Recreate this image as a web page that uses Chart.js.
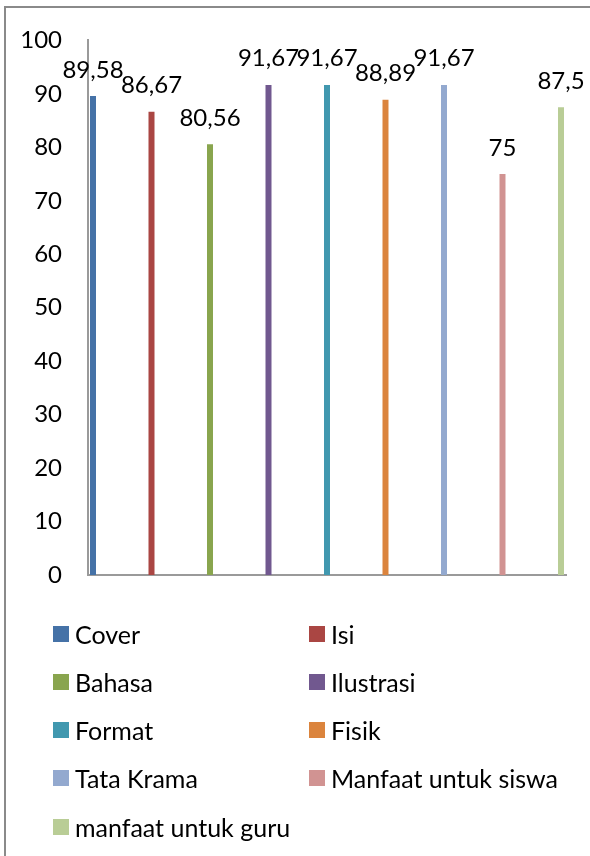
<!DOCTYPE html>
<html>
<head>
<meta charset="utf-8">
<script src="https://cdn.jsdelivr.net/npm/chart.js@4.4.0/dist/chart.umd.min.js"></script>
<style>
  html, body { margin: 0; padding: 0; background: #fff; overflow: hidden; }
  body { width: 590px; height: 856px; position: relative; font-family: Lato, "Open Sans", sans-serif; }
  #frame { position: absolute; left: 4px; top: 6px; width: 700px; height: 900px;
           border-left: 2px solid #8a8a8a; border-top: 2px solid #8a8a8a; }
  #wrap { position: absolute; left: 0; top: 0; width: 590px; height: 856px; }
  #legend { position: absolute; left: 0; top: 0; width: 590px; height: 856px; pointer-events: none; }
  .item { position: absolute; height: 16px; font-size: 25px; color: #000; white-space: nowrap; }
  .item .box { position: absolute; left: 0; top: 0; width: 16px; height: 16px; }
  .item .txt { position: absolute; left: 22px; top: 50%; transform: translateY(-50%); line-height: 1; }
</style>
</head>
<body>
<div id="frame"></div>
<div id="wrap"><canvas id="chart" width="590" height="856"></canvas></div>
<div id="legend"></div>
<script>
// kategori penilaian
var categories = ['Cover', 'Isi', 'Bahasa', 'Ilustrasi', 'Format', 'Fisik', 'Tata Krama', 'Manfaat untuk siswa', 'manfaat untuk guru'];
// nilai (%)
var values = [89.58, 86.67, 80.56, 91.67, 91.67, 88.89, 91.67, 75, 87.5];
var colors = ['#4572A7', '#AA4643', '#89A54E', '#71588F', '#4198AF', '#DB843D', '#93A9CF', '#D19392', '#B9CD96'];
var yTicks = [0, 10, 20, 30, 40, 50, 60, 70, 80, 90, 100];

var FONT = 'Lato, "Open Sans", sans-serif';

// satu dataset per kategori supaya legend-nya sama seperti Excel
var datasets = categories.map(function (name, i) {
    return {
        label: name,
        data: [{ x: i, y: values[i] }],
        backgroundColor: colors[i],
        borderWidth: 0,
        grouped: false,
        maxBarThickness: 6
    };
});

function fmt(v) {
    return String(v).replace('.', ',');
}

// label nilai di atas batang
var valueLabels = {
    id: 'valueLabels',
    afterDatasetsDraw: function (chart) {
        var ctx = chart.ctx;
        ctx.save();
        ctx.font = '24px ' + FONT;
        ctx.fillStyle = '#000';
        ctx.textAlign = 'center';
        ctx.textBaseline = 'alphabetic';
        chart.data.datasets.forEach(function (ds, i) {
            var el = chart.getDatasetMeta(i).data[0];
            if (!el) return;
            ctx.fillText(fmt(ds.data[0].y), el.x, el.y - 18.5);
        });
        ctx.restore();
    }
};

var ctx = document.getElementById('chart').getContext('2d');
var chart = new Chart(ctx, {
    type: 'bar',
    data: { datasets: datasets },
    options: {
        responsive: false,
        animation: false,
        layout: { padding: { left: 0, right: 24, top: 37, bottom: 281 } },
        plugins: {
            legend: { display: false },
            tooltip: { enabled: false }
        },
        scales: {
            x: {
                type: 'linear',
                offset: false,
                min: -0.0855,
                max: 8.0855,
                grid: { display: false, drawTicks: false, offset: false },
                border: { display: true, color: '#9a9a9a', width: 2 },
                ticks: { display: false, includeBounds: false, stepSize: 1 },
                afterFit: function (s) { s.height = 0; }
            },
            y: {
                min: 0,
                max: 100,
                afterBuildTicks: function (s) {
                    s.ticks = yTicks.map(function (v) { return { value: v }; });
                },
                grid: { display: false, drawTicks: false },
                border: { display: true, color: '#9a9a9a', width: 2 },
                ticks: {
                    padding: 26,
                    color: '#000',
                    font: { family: FONT, size: 24 }
                },
                afterFit: function (s) { s.width = 88; }
            }
        }
    },
    plugins: [valueLabels]
});

// legend dua kolom
var legend = document.getElementById('legend');
var colX = [53, 309];
var rowY = [626, 674, 722, 770, 819];
chart.data.datasets.forEach(function (ds, i) {
    var item = document.createElement('div');
    item.className = 'item';
    item.style.left = colX[i % 2] + 'px';
    item.style.top = rowY[Math.floor(i / 2)] + 'px';
    var box = document.createElement('span');
    box.className = 'box';
    box.style.background = ds.backgroundColor;
    var txt = document.createElement('span');
    txt.className = 'txt';
    txt.textContent = ds.label;
    item.appendChild(box);
    item.appendChild(txt);
    legend.appendChild(item);
});
</script>
</body>
</html>
